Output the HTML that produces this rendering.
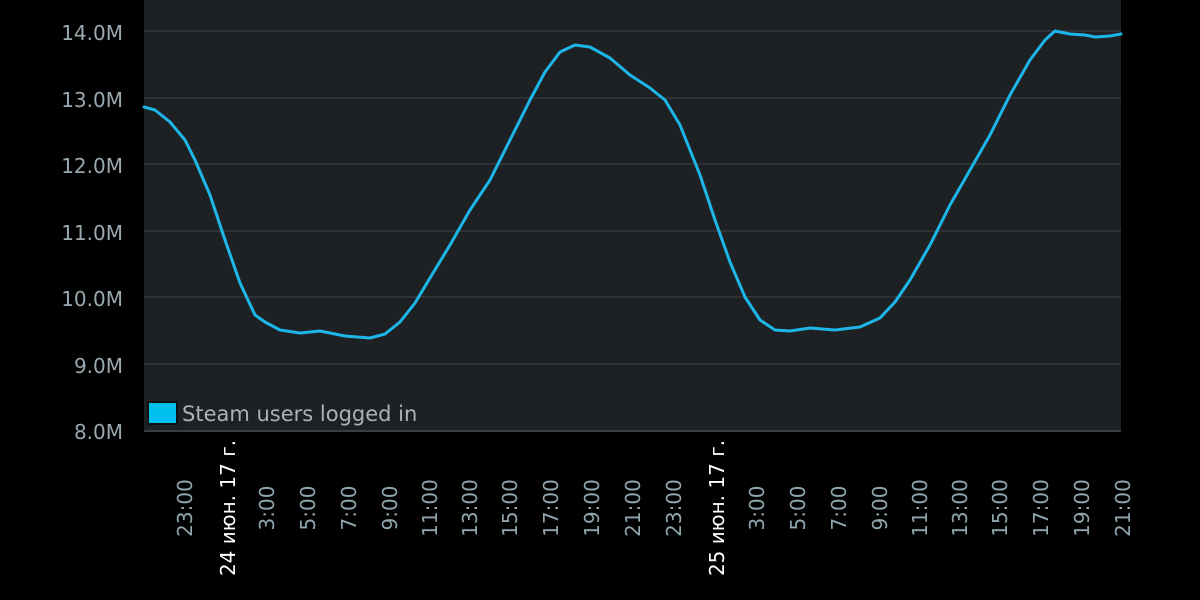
<!DOCTYPE html>
<html><head><meta charset="utf-8"><style>
html,body{margin:0;padding:0;background:#000;}
svg{display:block;font-family:"DejaVu Sans","Liberation Sans",sans-serif;}
</style></head><body>
<svg width="1200" height="600" viewBox="0 0 1200 600">
<rect width="1200" height="600" fill="#000"/>
<rect x="144" y="0" width="977" height="432" fill="#1e2124"/>
<g stroke="#34383b" stroke-width="1.5">
<line x1="144" x2="1121" y1="31" y2="31"/>
<line x1="144" x2="1121" y1="98" y2="98"/>
<line x1="144" x2="1121" y1="164" y2="164"/>
<line x1="144" x2="1121" y1="231" y2="231"/>
<line x1="144" x2="1121" y1="297" y2="297"/>
<line x1="144" x2="1121" y1="364" y2="364"/>
</g>
<line x1="144" x2="1121" y1="431" y2="431" stroke="#3a3e41" stroke-width="2"/>
<g fill="#9aa8b0" font-size="20" text-anchor="end">
<text x="123" y="40">14.0M</text>
<text x="123" y="107">13.0M</text>
<text x="123" y="173">12.0M</text>
<text x="123" y="240">11.0M</text>
<text x="123" y="306">10.0M</text>
<text x="123" y="373">9.0M</text>
<text x="123" y="439">8.0M</text>
</g>
<polyline fill="none" stroke="#1db6e8" stroke-width="3" stroke-linejoin="round" stroke-linecap="round"
points="144,107 155,110 170,122 185,140 195,160 210,195 225,240 240,283 255,315 265,322 280,330 300,333 320,331 345,336 370,338 385,334 400,322 415,303 430,278 450,245 470,210 490,180 510,140 530,100 545,72 560,52 575,45 590,47 610,58 630,75 650,88 665,100 680,125 700,175 715,220 730,262 745,297 760,320 775,330 790,331 810,328 835,330 860,327 880,318 895,302 910,280 930,245 950,205 970,170 990,135 1010,95 1030,60 1045,40 1055,31 1070,34 1085,35 1095,37 1110,36 1121,34"/>
<rect x="148" y="402" width="29" height="22" fill="#00c0f0" stroke="#111" stroke-width="2"/>
<text x="182" y="421" fill="#a8b2b8" font-size="21">Steam users logged in</text>
<g fill="#8fa6ae" font-size="20" text-anchor="middle">
<text transform="translate(192,508) rotate(-90)">23:00</text>
<text transform="translate(274,508) rotate(-90)">3:00</text>
<text transform="translate(315,508) rotate(-90)">5:00</text>
<text transform="translate(356,508) rotate(-90)">7:00</text>
<text transform="translate(397,508) rotate(-90)">9:00</text>
<text transform="translate(437,508) rotate(-90)">11:00</text>
<text transform="translate(477,508) rotate(-90)">13:00</text>
<text transform="translate(517,508) rotate(-90)">15:00</text>
<text transform="translate(558,508) rotate(-90)">17:00</text>
<text transform="translate(599,508) rotate(-90)">19:00</text>
<text transform="translate(640,508) rotate(-90)">21:00</text>
<text transform="translate(681,508) rotate(-90)">23:00</text>
<text transform="translate(764,508) rotate(-90)">3:00</text>
<text transform="translate(805,508) rotate(-90)">5:00</text>
<text transform="translate(846,508) rotate(-90)">7:00</text>
<text transform="translate(887,508) rotate(-90)">9:00</text>
<text transform="translate(927,508) rotate(-90)">11:00</text>
<text transform="translate(967,508) rotate(-90)">13:00</text>
<text transform="translate(1007,508) rotate(-90)">15:00</text>
<text transform="translate(1048,508) rotate(-90)">17:00</text>
<text transform="translate(1089,508) rotate(-90)">19:00</text>
<text transform="translate(1130,508) rotate(-90)">21:00</text>
</g>
<g fill="#ffffff" font-size="20" text-anchor="middle">
<text transform="translate(235,508) rotate(-90)">24 июн. 17 г.</text>
<text transform="translate(724,508) rotate(-90)">25 июн. 17 г.</text>
</g>
</svg>
</body></html>
